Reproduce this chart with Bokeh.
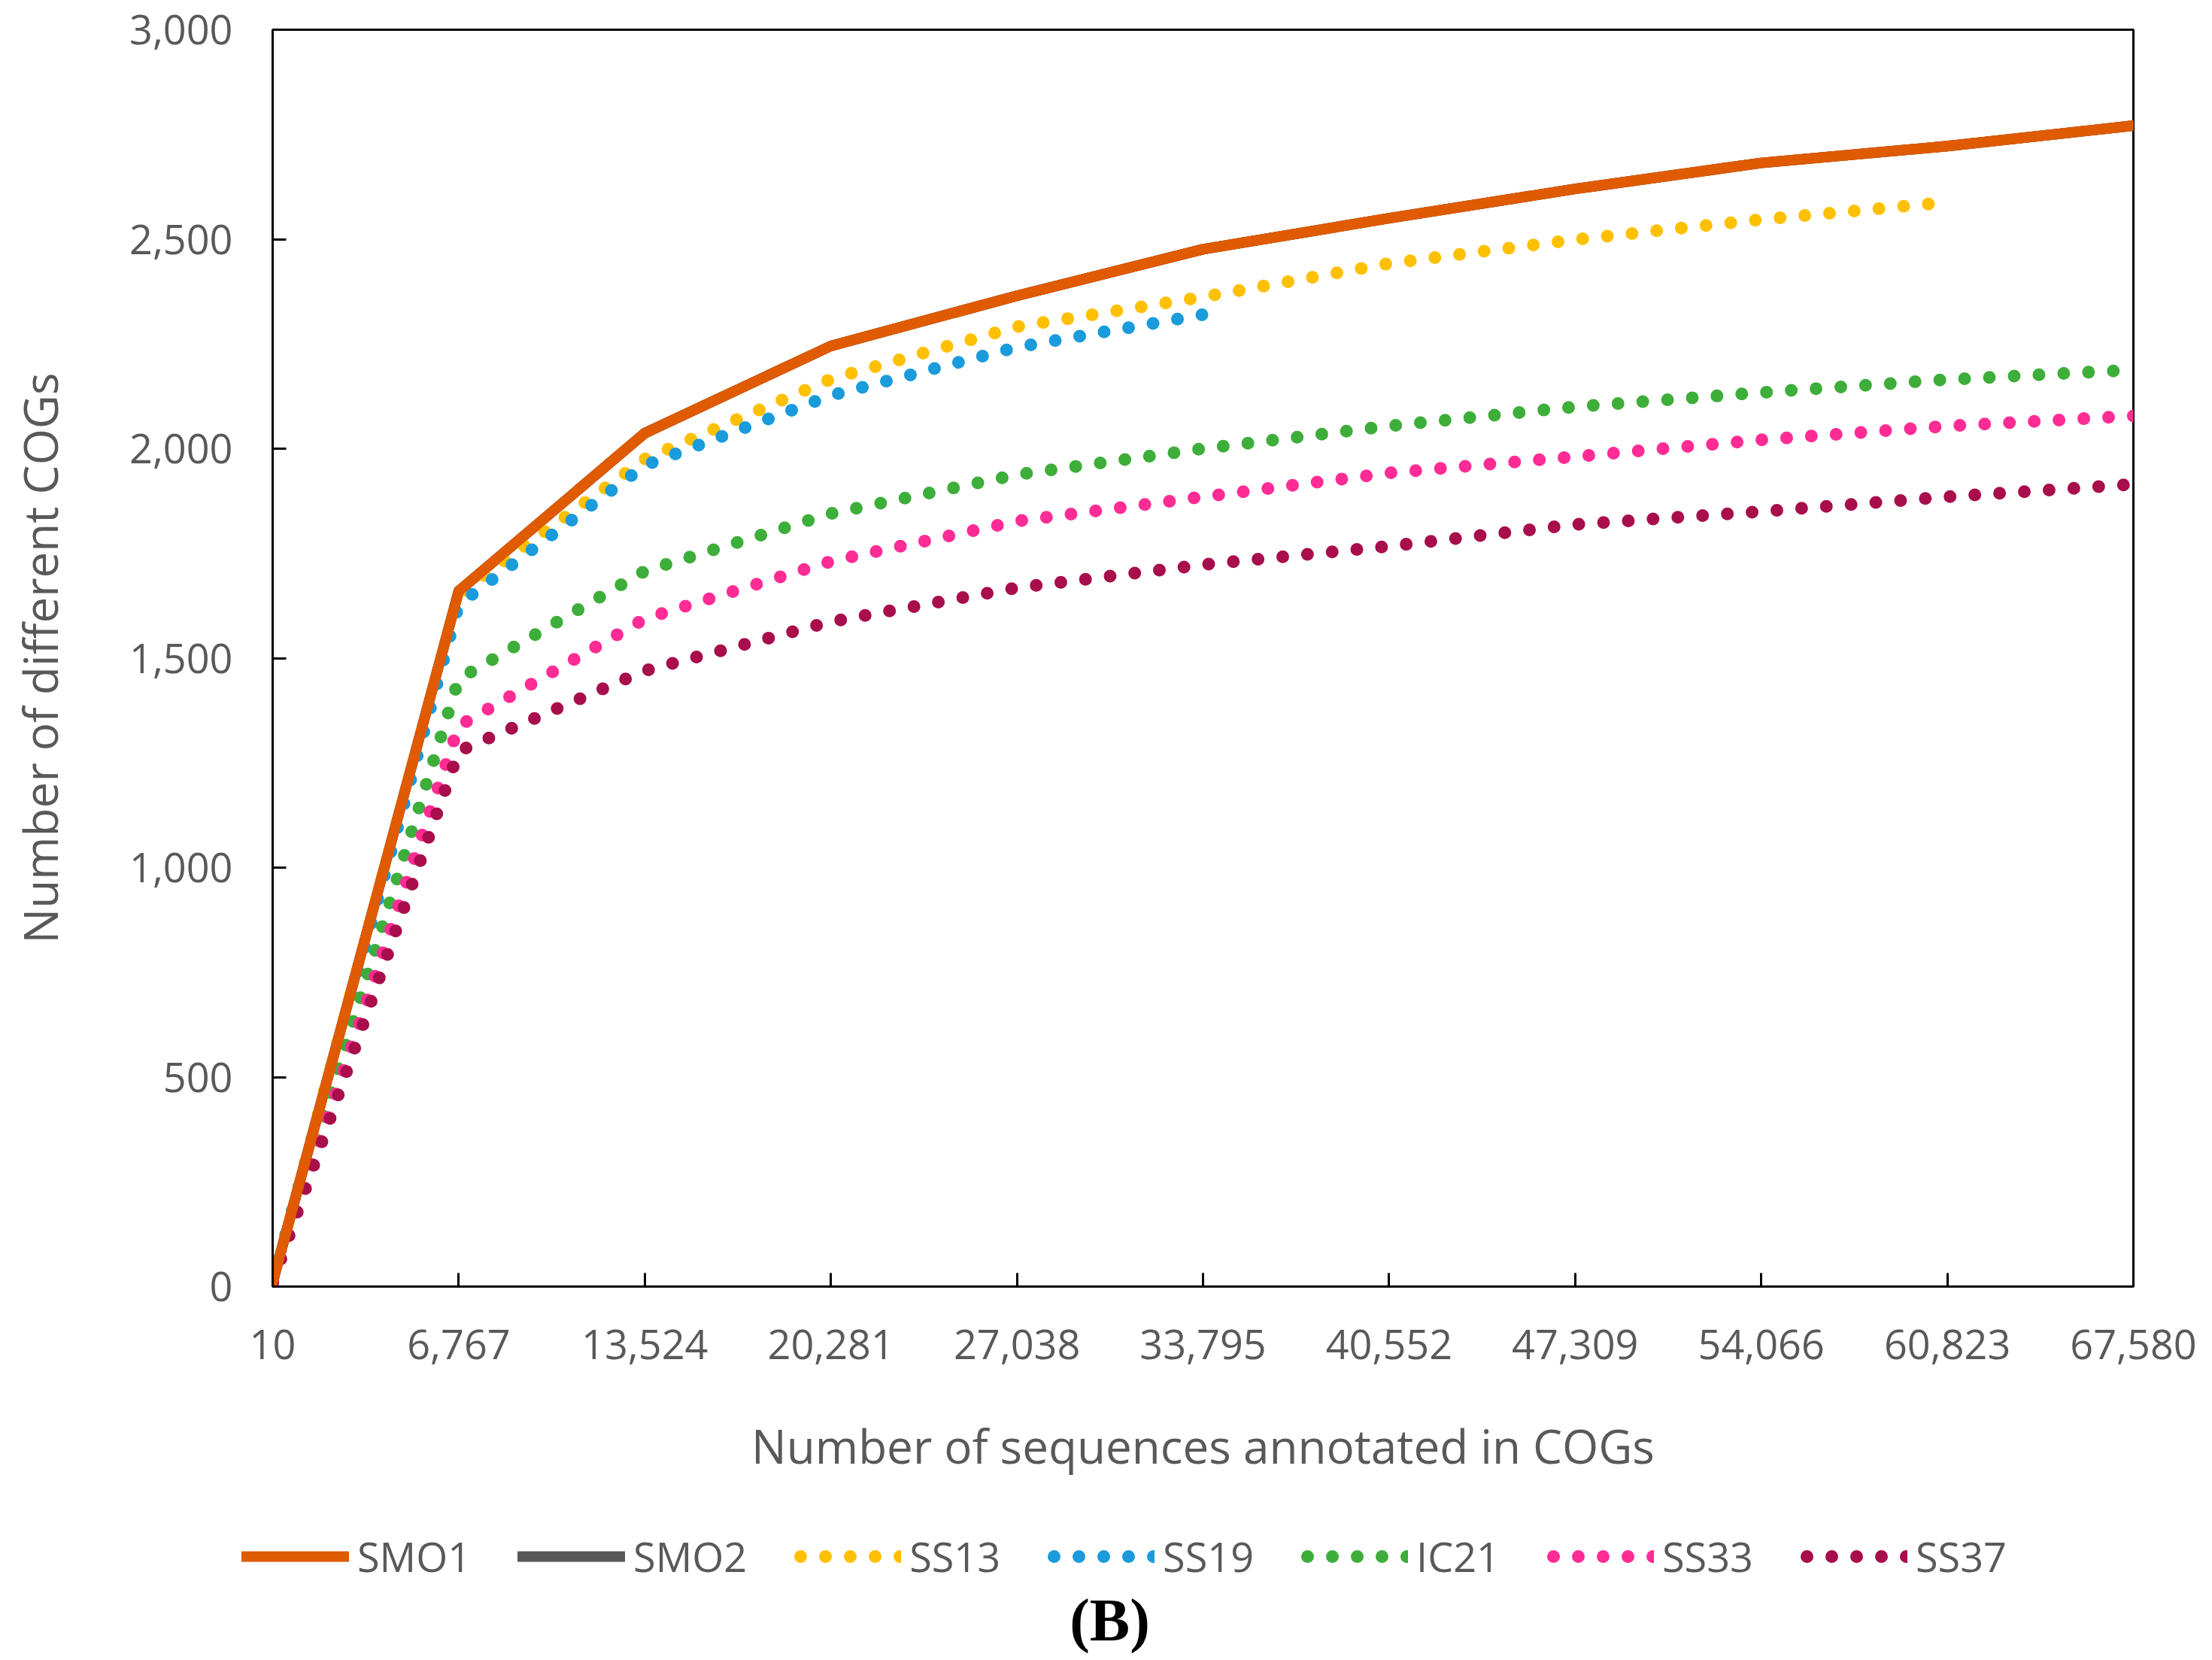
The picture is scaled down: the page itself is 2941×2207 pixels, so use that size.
from bokeh.plotting import figure
from bokeh.models import (FixedTicker, NumeralTickFormatter, Legend, LegendItem, Label)
from bokeh.layouts import column, row
from bokeh.embed import file_html
from bokeh.resources import INLINE

# ---- data ----
x_ticks = [10, 6767, 13524, 20281, 27038, 33795, 40552, 47309, 54066, 60823, 67580]
y_ticks = [0, 500, 1000, 1500, 2000, 2500, 3000]

smo1 = [10, 1660, 2037, 2245, 2365, 2476, 2550, 2620, 2682, 2722, 2771]
smo2 = [10, 1660, 2037, 2245, 2365, 2476, 2550, 2620, 2682, 2722, 2771]
ss13 = [10, 1652, 1975, 2166, 2291, 2362, 2442, 2499, 2547, 2588]
ss19 = [10, 1628, 1960, 2127, 2242, 2320]
ic21 = [10, 1450, 1708, 1845, 1938, 2000, 2054, 2100, 2134, 2165, 2188]
ss33 = [10, 1338, 1594, 1731, 1827, 1885, 1942, 1981, 2021, 2054, 2078]
ss37 = [10, 1278, 1470, 1587, 1668, 1723, 1767, 1819, 1850, 1885, 1915]

names = ["SMO1", "SMO2", "SS13", "SS19", "IC21", "SS33", "SS37"]
series = [smo1, smo2, ss13, ss19, ic21, ss33, ss37]
colors = ["#E05A00", "#595959", "#FFC000", "#1A9BDB", "#3DAE3A", "#FF2C95", "#A80D4C"]
solid = [True, True, False, False, False, False, False]
panel_label = "(B)"

TXT = "#595959"
FONT = "Open Sans"
W = 2925
LEFT, RIGHT = 362, 89


def style_kwargs(col, sol, dash_offset=0):
    if sol:
        return dict(line_color=col, line_width=14, line_join="round", line_cap="round")
    return dict(line_color=col, line_width=17, line_cap="round", line_dash="0 33",
                line_dash_offset=dash_offset, line_join="round")


# ---- main chart ----
p = figure(width=W, height=2032, x_range=(10, 67580), y_range=(0, 3000),
           output_backend="svg", toolbar_location=None,
           min_border_left=LEFT, min_border_right=RIGHT, min_border_top=39,
           min_border_bottom=322)
p.xgrid.visible = False
p.ygrid.visible = False
p.outline_line_color = "black"
p.outline_line_width = 3

for ax in (p.xaxis[0], p.yaxis[0]):
    ax.axis_line_color = "black"
    ax.axis_line_width = 3
    ax.major_tick_line_color = "black"
    ax.major_tick_line_width = 3
    ax.major_tick_in = 18
    ax.major_tick_out = 0
    ax.minor_tick_line_color = None
    ax.major_label_text_font = FONT
    ax.major_label_text_font_size = "54px"
    ax.major_label_text_color = TXT
    ax.axis_label_text_font = FONT
    ax.axis_label_text_font_size = "62px"
    ax.axis_label_text_color = TXT
    ax.axis_label_text_font_style = "normal"
    ax.formatter = NumeralTickFormatter(format="0,0")

p.xaxis[0].ticker = FixedTicker(ticks=x_ticks)
p.yaxis[0].ticker = FixedTicker(ticks=y_ticks)
p.xaxis[0].axis_label = "Number of sequences annotated in COGs"
p.yaxis[0].axis_label = "Number of different COGs"
p.xaxis[0].major_label_standoff = 57
p.xaxis[0].axis_label_standoff = 70
p.yaxis[0].major_label_standoff = 53
p.yaxis[0].axis_label_standoff = 74

for ys, col, sol in zip(series, colors, solid):
    p.line(x_ticks[:len(ys)], ys, **style_kwargs(col, sol))
# SMO1 drawn again on top of SMO2
p.line(x_ticks, smo1, **style_kwargs(colors[0], True))

# ---- legend strip + panel label (its ranges keep the series themselves off-frame) ----
H2 = 168
LEFT2 = 321
FRAME_W2 = W - LEFT2 - RIGHT
p2 = figure(width=W, height=H2, x_range=(-FRAME_W2, 0), y_range=(0, H2),
            output_backend="svg", toolbar_location=None,
            x_axis_location=None, y_axis_location=None,
            min_border_left=LEFT2, min_border_right=RIGHT,
            min_border_top=0, min_border_bottom=0)
p2.xgrid.visible = False
p2.ygrid.visible = False
p2.outline_line_color = None

leg_renderers = [p2.line(x_ticks[:len(ys)], ys, **style_kwargs(col, sol, dash_offset=-9))
                 for ys, col, sol in zip(series, colors, solid)]
items = [LegendItem(label=n, renderers=[r]) for n, r in zip(names, leg_renderers)]
legend = Legend(items=items, orientation="horizontal", location="top_left",
                label_text_font=FONT, label_text_font_size="54px", label_text_color=TXT,
                glyph_width=143, glyph_height=40, label_standoff=11, spacing=62,
                padding=0, margin=0, border_line_alpha=0, background_fill_alpha=0)
p2.add_layout(legend, "center")

p2.add_layout(Label(x=-1361, y=47, text=panel_label, text_align="center",
                    text_baseline="middle", text_font="Liberation Serif",
                    text_font_style="bold", text_font_size="80px", text_color="black"))

layout = column(p, row(p2), spacing=0)
open("out.html", "w").write(file_html(layout, INLINE))
